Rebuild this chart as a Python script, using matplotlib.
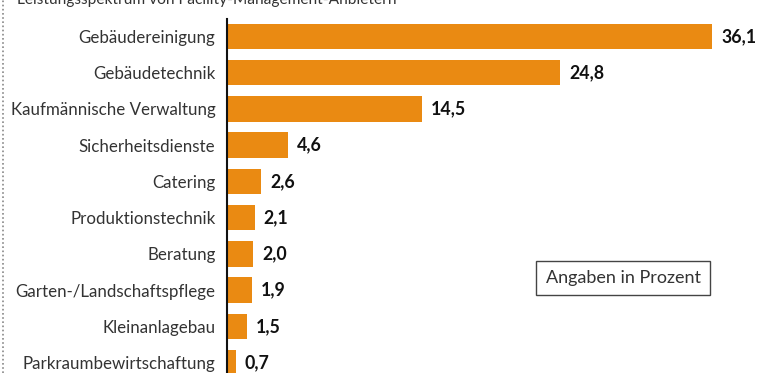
import matplotlib.pyplot as plt
from matplotlib.lines import Line2D

categories = ['Gebäudereinigung', 'Gebäudetechnik', 'Kaufmännische Verwaltung',
              'Sicherheitsdienste', 'Catering', 'Produktionstechnik', 'Beratung',
              'Garten-/Landschaftspflege', 'Kleinanlagebau', 'Parkraumbewirtschaftung']
values = [36.1, 24.8, 14.5, 4.6, 2.6, 2.1, 2.0, 1.9, 1.5, 0.7]
value_labels = ['36,1', '24,8', '14,5', '4,6', '2,6', '2,1', '2,0', '1,9', '1,5', '0,7']

plt.rcParams['font.family'] = ['Lato', 'DejaVu Sans']

W, H = 762, 373
fig = plt.figure(figsize=(W / 100, H / 100), dpi=100)

# axes placed in pixel terms
left_px, top_px, bottom_px = 226.5, 19, 373
xmax = 38
px_per_unit = 13.46
ax = fig.add_axes([left_px / W, (H - bottom_px) / H,
                   xmax * px_per_unit / W, (bottom_px - top_px) / H])

ypos = list(range(len(categories)))
ax.barh(ypos, values, height=0.7, color='#EA8A12')
ax.set_xlim(0, xmax)
ax.set_ylim(9.29, -0.483)

for y, v, lab in zip(ypos, values, value_labels):
    ax.text(v + 0.65, y, lab, va='center', ha='left', fontsize=12.8,
            fontweight='bold', color='#111111')

ax.set_yticks(ypos)
ax.set_yticklabels(categories, fontsize=12.2, color='#333333')
ax.tick_params(axis='y', length=0, pad=8)
ax.set_xticks([])
for s in ['top', 'right', 'bottom']:
    ax.spines[s].set_visible(False)
ax.spines['left'].set_linewidth(1.5)
ax.spines['left'].set_color('#111111')

# note box
fig.text(623 / W, 1 - 278 / H, 'Angaben in Prozent', ha='center', va='center',
         fontsize=13, color='#333333',
         bbox=dict(boxstyle='square,pad=0.5', fc='white', ec='#444444', lw=1))

# title, mostly cut off at the top edge
fig.text(17 / W, 1 - 4 / H, 'Leistungsspektrum von Facility-Management-Anbietern',
         ha='left', va='baseline', fontsize=11.2, color='#333333')

# dotted frame line on the left
fig.add_artist(Line2D([2.5 / W, 2.5 / W], [0, 1], transform=fig.transFigure,
                      color='#888888', lw=1.2, linestyle=(0, (1, 1.5))))

fig.savefig('out.png', dpi=100)
